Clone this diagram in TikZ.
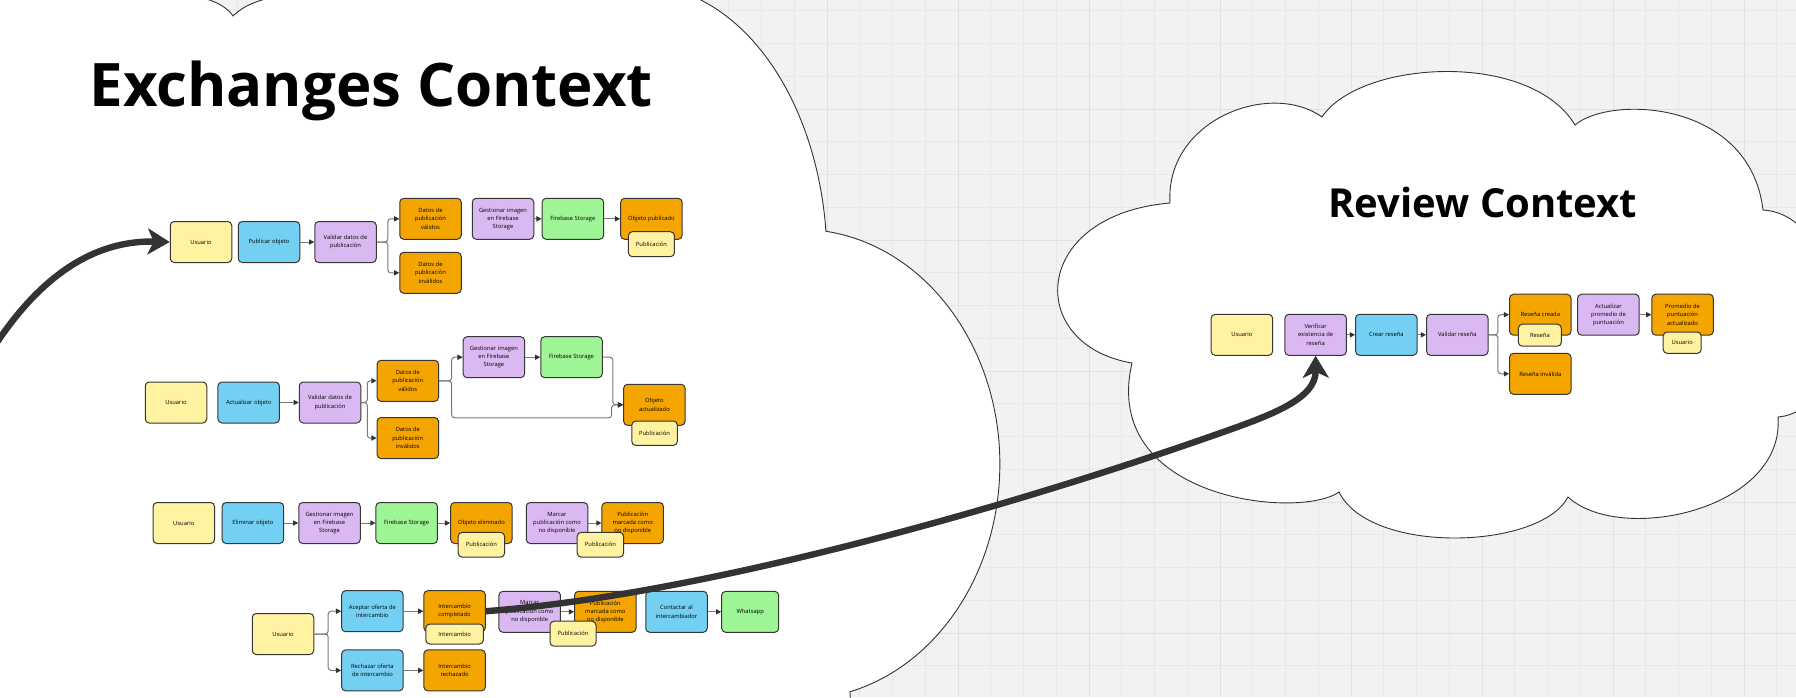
\documentclass[tikz,border=0pt]{standalone}
\usepackage{fontspec}
\setmainfont{Open Sans}
\usetikzlibrary{arrows.meta}

\definecolor{ylw}{HTML}{FFF2A0}
\definecolor{blu}{HTML}{74D0F2}
\definecolor{lav}{HTML}{DAB9F2}
\definecolor{grn}{HTML}{9DF595}
\definecolor{org}{HTML}{F5A500}
\definecolor{cardline}{HTML}{363636}
\definecolor{linkgray}{HTML}{7A7A7A}
\definecolor{dark}{HTML}{333333}
\definecolor{gridbg}{HTML}{F2F2F2}
\definecolor{gridmin}{HTML}{E8E8E8}
\definecolor{gridmaj}{HTML}{E1E1E1}

\newcommand\cardfont{\fontsize{2.9}{4.1}\selectfont}
\newcommand\ctxfont{\bfseries\fontsize{30}{36}\selectfont}
\newcommand\ctxfontsmall{\bfseries\fontsize{20}{24}\selectfont}

\begin{document}
\begin{tikzpicture}
[x=0.5pt,y=-0.5pt,
  carddecorate/.style={shape=rectangle,draw=cardline,line width=0.5pt,rounded corners=2pt,
    minimum width=30.75pt,minimum height=20.5pt,inner sep=0pt,align=center,font=\cardfont},
  usercard/.style={carddecorate,fill=ylw},
  actioncard/.style={carddecorate,fill=blu},
  checkcard/.style={carddecorate,fill=lav},
  storecard/.style={carddecorate,fill=grn},
  eventcard/.style={carddecorate,fill=org},
  tagcard/.style={carddecorate,fill=ylw},
  linedecorate/.style={draw=linkgray,line width=0.5pt,rounded corners=1.5pt,
    -{Triangle[length=2.6pt,width=2.6pt,color=dark]}},
  bigarrow/.style={draw=dark,line width=3.2pt,-{Stealth[length=11pt,width=13pt,inset=3pt]}},
  cloudline/.style={fill=white,draw=dark,line width=0.45pt},
  gridminor/.style={draw=gridmin,line width=0.5pt},
  gridmajor/.style={draw=gridmaj,line width=0.5pt}]
\useasboundingbox (0,0) rectangle (1796,697);
%% board with its grid
\fill[gridbg] (0,0) rectangle (1796,697);
\foreach \k in {0,...,54} { \draw[gridminor] ({8.25+32.75*\k},0) -- ++(0,697); }
\foreach \k in {0,...,21} { \draw[gridminor] (0,{10.75+32.75*\k}) -- ++(1796,0); }
\foreach \k in {0,...,13} { \draw[gridmajor] ({41+131*\k},0) -- ++(0,697); }
\foreach \k in {1,...,5} { \draw[gridmajor] (0,{-22+131*\k}) -- ++(1796,0); }

%% clouds
\draw[cloudline] (-20,800) -- (-20,-20) -- (185,-20) -- (185,-4)
  .. controls (205,-4) and (225,4) .. (233,16)
  .. controls (245,4) and (265,-3) .. (290,-5) -- (290,-20) -- (607.5,-20) -- (607.5,-10.8)
  arc[start angle=-100,end angle=-6,x radius=187,y radius=275]
  arc[start angle=-82.5,end angle=75.5,x radius=200,y radius=235]
  arc[start angle=-4,end angle=40,x radius=160,y radius=150]
  -- (813,800) -- cycle;
\draw[cloudline] (1322,117) .. controls (1360,60) and (1530,50) .. (1575,125)
  .. controls (1610,95) and (1750,100) .. (1763,210)
  .. controls (1850,215) and (1860,410) .. (1778,417)
  .. controls (1785,510) and (1620,545) .. (1568,497)
  .. controls (1540,550) and (1370,555) .. (1339,492)
  .. controls (1300,520) and (1100,500) .. (1132,363)
  .. controls (1025,345) and (1030,215) .. (1170,203)
  .. controls (1165,120) and (1270,80) .. (1322,117) -- cycle;

%% titles
\node (exchtitle) at (89,106) [anchor=base west,inner sep=0pt,font=\ctxfont] {Exchanges Context};
\node (revtitle) at (1328,217) [anchor=base west,inner sep=0pt,font=\ctxfontsmall] {Review Context};

%% nodes or vertices
\foreach \nodename/\x/\y/\txt in {usr1/201/242/Usuario, usr2/176/402.5/Usuario,
  usr3/183.8/523/Usuario, usr4/283/634/Usuario, usrR/1241.9/334.8/Usuario} {
  \node (\nodename) at (\x,\y) [usercard] {\txt};
}
\foreach \nodename/\x/\y/\txt in {pub1/269/242/Publicar objeto, act2/248.7/402.5/Actualizar objeto,
  elim3/252.9/523/Eliminar objeto, acc4/372.4/611.2/Aceptar oferta de\\intercambio,
  rej4/372.4/670.4/Rechazar oferta\\de intercambio, contact4/676.5/611.8/Contactar al\\intercambiador,
  newR/1386.3/334.8/Crear reseña} {
  \node (\nodename) at (\x,\y) [actioncard] {\txt};
}
\foreach \nodename/\x/\y/\txt in {val1/345.5/242/Validar datos de\\publicación,
  gest1/503/218.8/Gestionar imagen\\en Firebase\\Storage,
  val2/330/402.5/Validar datos de\\publicación, gest2/493.9/357.2/Gestionar imagen\\en Firebase\\Storage,
  gest3/329.5/523/Gestionar imagen\\en Firebase\\Storage, mark3/557/523/Marcar\\publicación como\\no disponible,
  mark4/529.7/611.8/Marcar\\publicación como\\no disponible,
  verR/1315.6/334.8/Verificar\\existencia de\\reseña, valR/1457.3/334.8/Validar reseña,
  avgR/1608.4/314.7/Actualizar\\promedio de\\puntuación} {
  \node (\nodename) at (\x,\y) [checkcard] {\txt};
}
\foreach \nodename/\x/\y/\txt in {fire1/572.9/218.8/Firebase Storage, fire2/571.5/357.2/Firebase Storage,
  fire3/406.7/523/Firebase Storage} {
  \node (\nodename) at (\x,\y) [storecard] {\txt};
}
\node (whats4) at (750.2,611.8) [storecard,minimum width=28.5pt] {Whatsapp};
\foreach \nodename/\x/\y/\txt in {ok1/430.5/218.8/Datos de\\publicación\\válidos,
  bad1/430.5/272.8/Datos de\\publicación\\inválidos, obj1/651.4/218.8/Objeto publicado,
  ok2/407.8/380.8/Datos de\\publicación\\válidos, bad2/407.8/438/Datos de\\publicación\\inválidos,
  obj2/654.4/404.8/Objeto\\actualizado, obj3/481.4/523/Objeto eliminado,
  done3/632.7/523/Publicación\\marcada como\\no disponible,
  comp4/454.6/611.2/Intercambio\\completado, rejd4/454.6/670.4/Intercambio\\rechazado,
  done4/605.3/611.8/Publicación\\marcada como\\no disponible,
  okR/1540.3/314.7/Reseña creada, badR/1540.3/373.8/Reseña inválida,
  promR/1682.6/314.7/Promedio de\\puntuación\\actualizado} {
  \node (\nodename) at (\x,\y) [eventcard] {\txt};
}
%% small cards laid over the events
\foreach \nodename/\x/\y/\w/\h/\txt in {tag1/651.4/244.2/23/12.5/Publicación,
  tag2/654.6/433.2/22.8/12.2/Publicación, tag3a/481.4/544.7/23.2/12.4/Publicación,
  tag3b/600.4/544.7/23.2/12.4/Publicación, tag4a/454.6/634/28.8/10/Intercambio,
  tag4b/573/633.7/23/12.5/Publicación, tagR1/1539.9/335.2/21.5/11/Reseña,
  tagR2/1682.2/342.7/19/10.7/Usuario} {
  \node (\nodename) at (\x,\y) [tagcard,minimum width=\w pt,minimum height=\h pt] {\txt};
}

%% edges or lines
\path
(pub1) edge[linedecorate] node {} (val1)
(gest1) edge[linedecorate] node {} (fire1)
(fire1) edge[linedecorate] node {} (obj1)
(act2) edge[linedecorate] node {} (val2)
(gest2) edge[linedecorate] node {} (fire2)
(elim3) edge[linedecorate] node {} (gest3)
(gest3) edge[linedecorate] node {} (fire3)
(fire3) edge[linedecorate] node {} (obj3)
(mark3) edge[linedecorate] node {} (done3)
(acc4) edge[linedecorate] node {} (comp4)
(rej4) edge[linedecorate] node {} (rejd4)
(mark4) edge[linedecorate] node {} (done4)
(contact4) edge[linedecorate] node {} (whats4)
(verR) edge[linedecorate] node {} (newR)
(newR) edge[linedecorate] node {} (valR)
(avgR) edge[linedecorate] node {} (promR);
\draw[linedecorate] (val1.east) -- ++(11,0) |- (ok1.west);
\draw[linedecorate] (val1.east) -- ++(11,0) |- (bad1.west);
\draw[linedecorate] (val2.east) -- ++(6,0) |- (ok2.west);
\draw[linedecorate] (val2.east) -- ++(6,0) |- (bad2.west);
\draw[linedecorate] (ok2.east) -- ++(12.6,0) |- (gest2.west);
\draw[linedecorate] (ok2.east) -- ++(12.6,0) |- ++(160,37) |- (obj2.west);
\draw[linedecorate] (fire2.east) -- ++(10.1,0) |- (obj2.west);
\draw[linedecorate] (usr4.east) -- ++(13.9,0) |- (acc4.west);
\draw[linedecorate] (usr4.east) -- ++(13.9,0) |- (rej4.west);
\draw[linedecorate] (valR.east) -- ++(9.3,0) |- (okR.west);
\draw[linedecorate] (valR.east) -- ++(9.3,0) |- (badR.west);

%% links between the contexts
\coordinate (offleft) at (-8,350);
\draw[bigarrow] (offleft) .. controls (40,275) and (95,240) .. (usr1.west);
\draw[bigarrow] (comp4.east) .. controls (700,595) and (1000,510) .. (1209,437)
  .. controls (1269,416) and (1316,400) .. (verR.south);
\end{tikzpicture}
\end{document}
